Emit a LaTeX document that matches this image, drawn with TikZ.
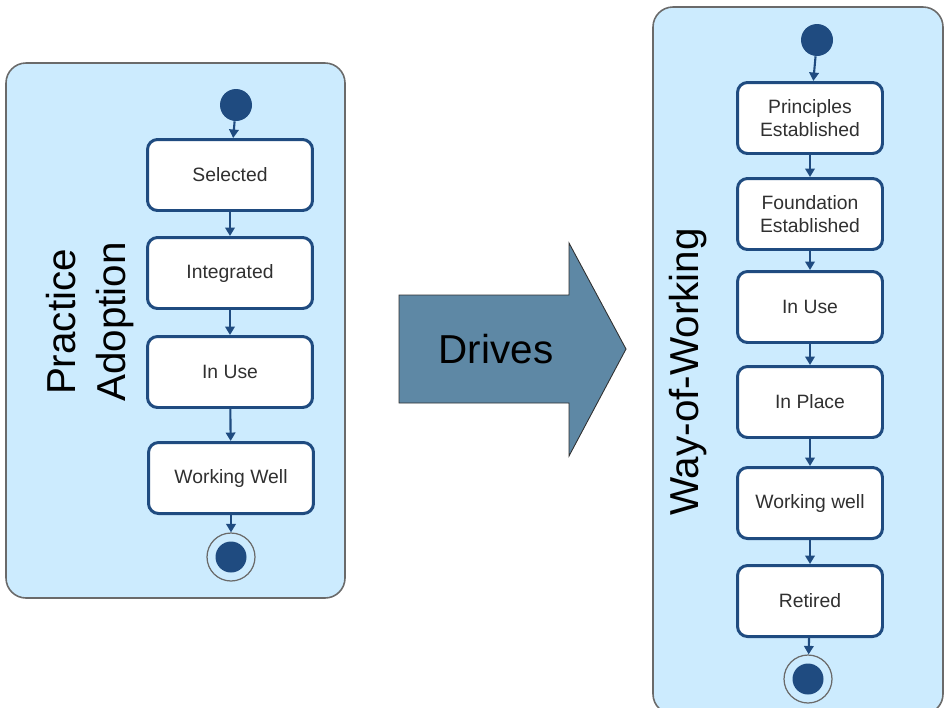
\documentclass[tikz,border=0pt]{standalone}
\usepackage{fontspec}
\setmainfont{Liberation Sans}
\usetikzlibrary{arrows.meta}

\definecolor{panelblue}{HTML}{CCEBFE}
\definecolor{panelgrey}{HTML}{6A6A6A}
\definecolor{navy}{HTML}{1F4B80}
\definecolor{steel}{HTML}{5E88A5}
\definecolor{inkgrey}{HTML}{303030}

\begin{document}
\begin{tikzpicture}[x=0.02cm, y=-0.02cm,
    panel/.style={draw=panelgrey, line width=0.9pt, fill=panelblue, rounded corners=0.4cm},
    stbox/.style={draw=navy, line width=1.7pt, fill=white, rounded corners=0.2cm, minimum width=3.3cm, minimum height=1.42cm, align=center, text=inkgrey, font=\fontsize{11}{13.5}\selectfont},
    wstbox/.style={stbox, minimum width=2.9cm},
    initdot/.style={circle, fill=navy, minimum size=0.64cm, inner sep=0pt},
    endring/.style={circle, draw=panelgrey, line width=0.7pt, minimum size=0.96cm, inner sep=0pt},
    flow/.style={draw=navy, line width=1.2pt, -{Triangle[length=1.7mm, width=1.9mm]}},
    paneltitle/.style={rotate=90, align=center, font=\fontsize{23}{28}\selectfont}]

    \useasboundingbox (0,0) rectangle (945,707);

    % --- Left panel: Practice Adoption ---
    \draw[panel] (6,63) rectangle (345,598);
    \node[paneltitle] (pa) at (90,322) {Practice\\Adoption};
    \node[initdot] (paStart) at (236,105) {};
    \node[stbox] (paSel) at (230,175) {Selected};
    \node[stbox] (paInt) at (230,273) {Integrated};
    \node[stbox] (paUse) at (230,372) {In Use};
    \node[stbox] (paWell) at (231,478) {Working Well};
    \node[endring] (paEnd) at (231,557) {};
    \node[initdot, minimum size=0.62cm] (paEndDot) at (paEnd) {};
    % transitions
    \draw[flow] (paStart) -- (paSel);
    \draw[flow] (paSel) -- (paInt);
    \draw[flow] (paInt) -- (paUse);
    \draw[flow] (paUse) -- (paWell);
    \draw[flow] (paWell) -- (paEnd);

    % --- Middle: Drives arrow ---
    \draw[draw=inkgrey, line width=0.5pt, fill=steel] (399,295) -- (569,295) -- (569,243) -- (626,349) -- (569,456) -- (569,403) -- (399,403) -- cycle;
    \node[font=\fontsize{23}{28}\selectfont] (drv) at (496,349) {Drives};

    % --- Right panel: Way-of-Working ---
    \draw[panel] (653,7) rectangle (943,714);
    \node[paneltitle] (ww) at (688,372) {Way-of-Working};
    \node[initdot] (wwStart) at (817,40) {};
    \node[wstbox] (wwPrin) at (810,118) {Principles\\Established};
    \node[wstbox] (wwFound) at (810,214) {Foundation\\Established};
    \node[wstbox] (wwUse) at (810,307) {In Use};
    \node[wstbox] (wwPlace) at (810,402) {In Place};
    \node[wstbox] (wwWell) at (810,503) {Working well};
    \node[wstbox] (wwRet) at (810,601) {Retired};
    \node[endring] (wwEnd) at (808,679) {};
    \node[initdot, minimum size=0.62cm] (wwEndDot) at (wwEnd) {};
    % transitions
    \draw[flow] (wwStart) -- (wwPrin);
    \draw[flow] (wwPrin) -- (wwFound);
    \draw[flow] (wwFound) -- (wwUse);
    \draw[flow] (wwUse) -- (wwPlace);
    \draw[flow] (wwPlace) -- (wwWell);
    \draw[flow] (wwWell) -- (wwRet);
    \draw[flow] (wwRet) -- (wwEnd);

\end{tikzpicture}
\end{document}
